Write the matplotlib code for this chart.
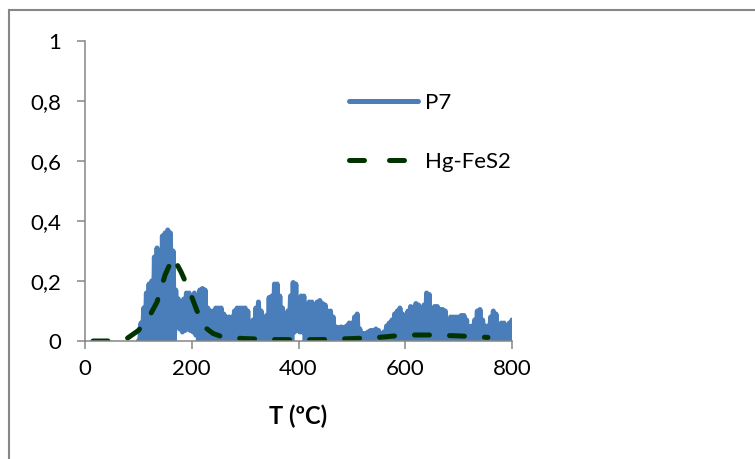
import matplotlib.pyplot as plt
import numpy as np
from matplotlib.patches import Rectangle
from matplotlib.lines import Line2D

plt.rcParams['font.family'] = ['Lato', 'DejaVu Sans']

# P7 trace, read as upper / lower envelope every 5 ºC (100..800)
t_p7 = np.arange(100, 805, 5)
p7_hi = [0.00, 0.06, 0.11, 0.16, 0.19, 0.20, 0.28, 0.31, 0.30, 0.35,
         0.36, 0.37, 0.36, 0.30, 0.17, 0.14, 0.12, 0.14, 0.16, 0.16,
         0.14, 0.16, 0.15, 0.17, 0.175, 0.17, 0.11, 0.10, 0.10, 0.11,
         0.11, 0.11, 0.09, 0.08, 0.08, 0.08, 0.10, 0.11, 0.11, 0.11,
         0.11, 0.10, 0.06, 0.07, 0.11, 0.13, 0.10, 0.07, 0.085, 0.145,
         0.15, 0.19, 0.19, 0.15, 0.11, 0.07, 0.10, 0.15, 0.195, 0.19,
         0.12, 0.15, 0.15, 0.11, 0.13, 0.13, 0.09, 0.13, 0.135, 0.125,
         0.12, 0.10, 0.10, 0.08, 0.047, 0.045, 0.047, 0.045, 0.05, 0.06,
         0.06, 0.08, 0.09, 0.04, 0.025, 0.025, 0.03, 0.035, 0.035, 0.04,
         0.035, 0.025, 0.03, 0.05, 0.06, 0.07, 0.09, 0.10, 0.11, 0.09,
         0.08, 0.10, 0.115, 0.11, 0.125, 0.12, 0.10, 0.12, 0.16, 0.155,
         0.10, 0.115, 0.115, 0.105, 0.105, 0.10, 0.07, 0.08, 0.08, 0.08,
         0.08, 0.085, 0.085, 0.07, 0.047, 0.05, 0.07, 0.10, 0.105, 0.07,
         0.05, 0.05, 0.08, 0.10, 0.09, 0.05, 0.06, 0.06, 0.04, 0.06,
         0.07]
p7_lo = [0.00, 0.00, 0.00, 0.00, 0.00, 0.00, 0.00, 0.00, 0.00, 0.00,
         0.00, 0.00, 0.00, 0.00, 0.06, 0.04, 0.03, 0.035, 0.04, 0.035,
         0.03, 0.02, 0.00, 0.00, 0.00, 0.00, 0.00, 0.00, 0.00, 0.00,
         0.00, 0.00, 0.00, 0.00, 0.00, 0.00, 0.00, 0.00, 0.00, 0.00,
         0.00, 0.00, 0.00, 0.00, 0.00, 0.00, 0.00, 0.00, 0.00, 0.00,
         0.00, 0.00, 0.00, 0.00, 0.00, 0.00, 0.00, 0.00, 0.03, 0.035,
         0.03, 0.03, 0.00, 0.00, 0.00, 0.00, 0.00, 0.00, 0.00, 0.00,
         0.00, 0.00, 0.00, 0.00, 0.00, 0.00, 0.00, 0.00, 0.00, 0.00,
         0.00, 0.00, 0.00, 0.00, 0.00, 0.00, 0.00, 0.00, 0.00, 0.00,
         0.00, 0.00, 0.00, 0.00, 0.00, 0.00, 0.00, 0.00, 0.00, 0.00,
         0.00, 0.00, 0.00, 0.00, 0.00, 0.00, 0.00, 0.00, 0.00, 0.00,
         0.00, 0.00, 0.00, 0.00, 0.00, 0.00, 0.00, 0.00, 0.00, 0.00,
         0.00, 0.00, 0.00, 0.00, 0.00, 0.00, 0.00, 0.00, 0.00, 0.00,
         0.00, 0.00, 0.00, 0.00, 0.00, 0.00, 0.00, 0.00, 0.00, 0.00,
         0.00]

# Hg-FeS2 reference curve
t_hg = [15, 40, 60, 80, 100, 120, 135, 150, 165, 180, 195, 210, 225,
        240, 260, 300, 350, 400, 450, 500, 550, 600, 650, 700, 755]
hg = [0.0, 0.0, 0.0, 0.01, 0.035, 0.08, 0.13, 0.22, 0.28, 0.23, 0.17,
      0.10, 0.045, 0.025, 0.012, 0.008, 0.005, 0.004, 0.005, 0.008,
      0.012, 0.02, 0.02, 0.017, 0.012]

xticks = [0, 200, 400, 600, 800]
yticks = [0, 0.2, 0.4, 0.6, 0.8, 1]
ylabels = ['0', '0,2', '0,4', '0,6', '0,8', '1']

blue = '#4A7EBB'
green = '#003300'

# zig-zag between the two envelopes so the noisy band fills in
x_p7 = np.column_stack([t_p7, t_p7 + 2.5]).ravel()
y_p7 = np.column_stack([p7_hi, p7_lo]).ravel()

fig = plt.figure(figsize=(7.55, 4.59), dpi=100)
ax = fig.add_axes([85/755, 1 - 341/459, 427/755, 300/459])

ax.plot(x_p7, y_p7, color=blue, lw=3.6, solid_joinstyle='round',
        solid_capstyle='round')
ax.plot(t_hg, hg, color=green, lw=3.6, dashes=(3, 4),
        dash_capstyle='round')

ax.set_xlim(0, 800)
ax.set_ylim(0, 1)
ax.set_xticks(xticks)
ax.set_yticks(yticks)
ax.set_yticklabels(ylabels)
ax.tick_params(axis='both', colors='#868686', labelcolor='black',
               labelsize=16, width=1.1, length=6)
ax.tick_params(axis='y', pad=11)
ax.tick_params(axis='x', pad=7)
for s in ['top', 'right']:
    ax.spines[s].set_visible(False)
for s in ['left', 'bottom']:
    ax.spines[s].set_color('#868686')
    ax.spines[s].set_linewidth(1.1)
ax.set_xlabel('T (ºC)', fontsize=17, fontweight='bold', labelpad=18)

# legend keys drawn separately so the dashed key shows two dashes
h_p7 = Line2D([], [], color=blue, lw=3.6, solid_capstyle='round')
h_hg = Line2D([], [], color=green, lw=3.6, dashes=(3, 5),
              dash_capstyle='round')
ax.legend([h_p7, h_hg], ['P7', 'Hg-FeS2'], loc='upper left',
          bbox_to_anchor=(349/755, 1 - 93/459),
          bbox_transform=fig.transFigure, frameon=False, fontsize=16,
          handlelength=3.1, handletextpad=0.3, labelspacing=1.75,
          borderpad=0, borderaxespad=0)

# chart frame (only top and left edges fall inside the image)
fig.add_artist(Rectangle((9/755, -0.5), 2, 1.5 - 10/459,
                         transform=fig.transFigure, fill=False,
                         edgecolor='#868686', lw=1.5))

fig.savefig('out.png', dpi=100)
